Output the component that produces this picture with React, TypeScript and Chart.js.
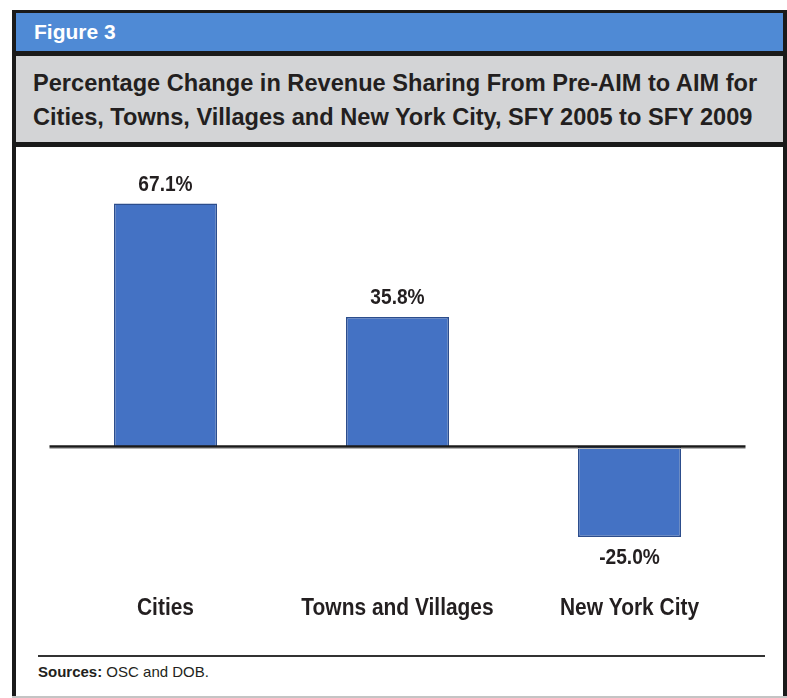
import React, { useEffect, useRef } from "react";
import { Chart, registerables } from "chart.js";

Chart.register(...registerables);

const figureLabel = "Figure 3";
const titleLines = [
  "Percentage Change in Revenue Sharing From Pre-AIM to AIM for",
  "Cities, Towns, Villages and New York City, SFY 2005 to SFY 2009",
];
const categories = ["Cities", "Towns and Villages", "New York City"];
const values = [67.1, 35.8, -25.0];
const valueLabels = ["67.1%", "35.8%", "-25.0%"];
const sourceBold = "Sources:";
const sourceText = " OSC and DOB.";

const SANS = "'Liberation Sans', Arial, Helvetica, sans-serif";
const TEXT = "#231f20";

function drawSqueezed(ctx: any, text: string, x: number, y: number, s: number) {
  ctx.save();
  ctx.translate(x, y);
  ctx.scale(s, 1);
  ctx.fillText(text, 0, 0);
  ctx.restore();
}

const barLabelPlugin = {
  id: "barLabels",
  afterDatasetsDraw(chart: any) {
    const ctx = chart.ctx;
    const y0 = chart.scales.y.getPixelForValue(0);
    const area = chart.chartArea;
    ctx.save();
    ctx.strokeStyle = "#b5b5b5";
    ctx.lineWidth = 1.2;
    ctx.beginPath();
    ctx.moveTo(area.left, y0 + 2);
    ctx.lineTo(area.right, y0 + 2);
    ctx.stroke();
    ctx.strokeStyle = "#1a1a1a";
    ctx.lineWidth = 2.4;
    ctx.beginPath();
    ctx.moveTo(area.left, y0);
    ctx.lineTo(area.right, y0);
    ctx.stroke();

    const meta = chart.getDatasetMeta(0);
    ctx.fillStyle = TEXT;
    ctx.font = `bold 22px ${SANS}`;
    ctx.textAlign = "center";
    ctx.textBaseline = "alphabetic";
    meta.data.forEach((el: any, i: number) => {
      const v = values[i];
      if (v >= 0) drawSqueezed(ctx, valueLabels[i], el.x, el.y - 13, 0.87);
      else drawSqueezed(ctx, valueLabels[i], el.x, el.y + 27, 0.87);
    });

    ctx.font = `bold 23px ${SANS}`;
    categories.forEach((c, i) => {
      const x = chart.scales.x.getPixelForValue(i);
      drawSqueezed(ctx, c, x, area.bottom + 23.7, 0.91);
    });
    ctx.restore();
  },
};

export default function App() {
  const ref = useRef<HTMLCanvasElement | null>(null);

  useEffect(() => {
    if (!ref.current) return;
    const chart = new Chart(ref.current, {
      type: "bar",
      data: {
        labels: categories,
        datasets: [
          {
            data: values,
            backgroundColor: "#4472c4",
            borderColor: "#2c4d8c",
            borderWidth: 1.5,
            barPercentage: 0.444,
            categoryPercentage: 1,
          },
        ],
      },
      options: {
        responsive: false,
        animation: false,
        layout: { padding: { left: 33.5, right: 37.5, top: 9.9, bottom: 58.7 } },
        plugins: { legend: { display: false }, tooltip: { enabled: false } },
        scales: {
          y: { display: false, min: -40, max: 80 },
          x: { display: false },
        },
      },
      plugins: [barLabelPlugin],
    });
    return () => chart.destroy();
  }, []);

  const abs = (l: number, t: number, w: number, h: number, extra: any = {}) => ({
    position: "absolute" as const,
    left: l,
    top: t,
    width: w,
    height: h,
    ...extra,
  });

  return (
    <div style={abs(0, 0, 787, 698, { background: "#fff", overflow: "hidden" })}>
      {/* frame */}
      <div style={abs(12, 10, 775, 3, { background: "#1a1a1a" })} />
      <div style={abs(12, 10, 4, 688, { background: "#1a1a1a" })} />
      <div style={abs(783, 10, 4, 687, { background: "#1a1a1a" })} />
      <div style={abs(12, 696, 775, 2, { background: "#c4c4c4" })} />
      {/* blue header */}
      <div style={abs(16, 13, 767, 38, { background: "#4f8ad5" })} />
      <div
        style={abs(34, 13, 300, 38, {
          color: "#fff",
          fontFamily: SANS,
          fontWeight: "bold",
          fontSize: 21,
          lineHeight: "38px",
        })}
      >
        {figureLabel}
      </div>
      <div style={abs(16, 51, 767, 5, { background: "#1a1a1a" })} />
      {/* gray title */}
      <div style={abs(16, 56, 767, 86, { background: "#d3d4d6" })} />
      <div
        style={abs(33, 66, 760, 72, {
          color: TEXT,
          fontFamily: SANS,
          fontWeight: "bold",
          fontSize: 23.6,
          lineHeight: "34.4px",
          whiteSpace: "nowrap",
        })}
      >
        <div>{titleLines[0]}</div>
        <div>{titleLines[1]}</div>
      </div>
      <div style={abs(16, 142, 767, 5, { background: "#1a1a1a" })} />
      {/* chart */}
      <canvas ref={ref} width={767} height={503} style={abs(16, 147, 767, 503)} />
      {/* sources */}
      <div style={abs(38, 655, 727, 2, { background: "#333" })} />
      <div
        style={abs(38, 662, 500, 20, {
          color: TEXT,
          fontFamily: SANS,
          fontSize: 15,
          lineHeight: "20px",
          whiteSpace: "nowrap",
        })}
      >
        <b>{sourceBold}</b>
        {sourceText}
      </div>
    </div>
  );
}
